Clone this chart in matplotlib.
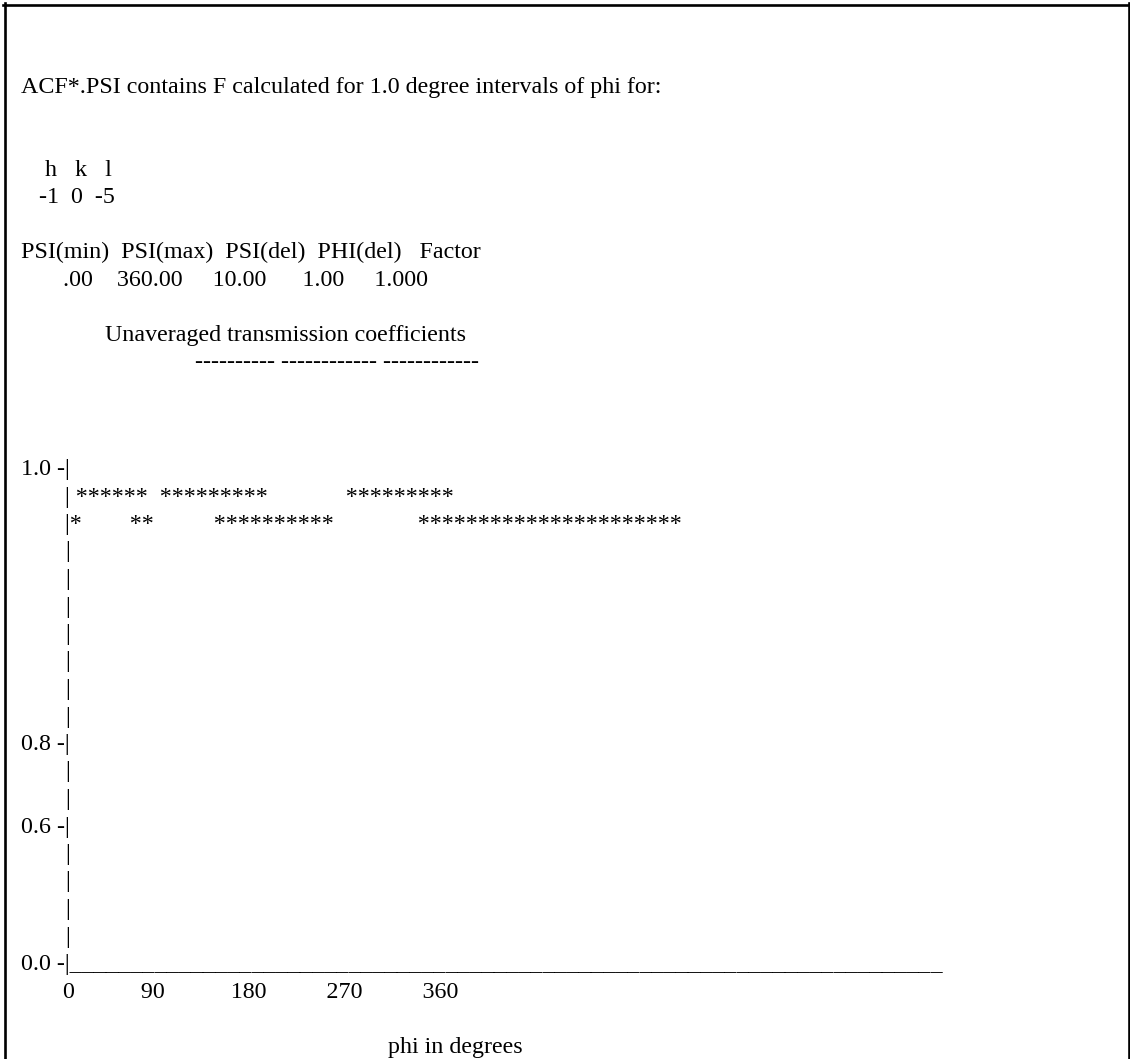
import matplotlib
matplotlib.use("Agg")
import matplotlib.pyplot as plt
from matplotlib.lines import Line2D

# ---------------- data ----------------
title_line = "ACF*.PSI contains F calculated for 1.0 degree intervals of phi for:"
hkl_labels = ["h", "k", "l"]
hkl_values = ["-1", "0", "-5"]
param_names = ["PSI(min)", "PSI(max)", "PSI(del)", "PHI(del)", "Factor"]
param_values = [".00", "360.00", "10.00", "1.00", "1.000"]
subtitle = "Unaveraged transmission coefficients"
underline_groups = [10, 12, 12]
y_tick_labels = ["1.0", "0.8", "0.6", "0.0"]
y_tick_rows = [0, 10, 13, 18]          # text rows of the ASCII plot
# ASCII plot rows of asterisks (row index -> text right of the axis bar)
star_row_index = [1, 2]
star_rows = [
    " ******  *********             *********",
    "*        **          **********              **********************",
]
x_axis_length = 72                      # underscores on the x axis line
x_tick_labels = ["0", "90", "180", "270", "360"]
x_label = "phi in degrees"

# ---------------- layout ----------------
W, H, DPI = 1130, 1059, 100
FONT = "Liberation Serif"
FS = 17.3
LEFT = 21
BASE0 = 475.0      # baseline of the "1.0" row (pixels from top)
STEP = 27.5        # line pitch in pixels
HEAD_SHIFT = 3.0   # header block sits slightly lower than the plot grid
BAR_X = 65

fig = plt.figure(figsize=(W / DPI, H / DPI), dpi=DPI)
ax = fig.add_axes([0, 0, 1, 1])
ax.set_xlim(0, W)
ax.set_ylim(H, 0)
ax.axis("off")


def row_y(k):
    y = BASE0 + STEP * k
    return y + HEAD_SHIFT if k < 0 else y


def put(x, k, s, ha="left"):
    ax.text(x, row_y(k), s, fontfamily=FONT, fontsize=FS, color="black",
            va="baseline", ha=ha)


# header block
put(LEFT, -14, title_line)
put(LEFT, -11, "    " + "   ".join(hkl_labels))
put(LEFT, -10, "   " + "  ".join(hkl_values))
put(LEFT, -8, "  ".join(param_names[:4]) + "   " + param_names[4])
val_gaps = [7, 4, 5, 6, 5]
put(LEFT, -7, "".join(" " * g + v for g, v in zip(val_gaps, param_values)))
put(LEFT, -5, " " * 14 + subtitle)
put(LEFT, -4, " " * 29 + " ".join("-" * n for n in underline_groups))

# y axis with tick labels
for k in range(0, 18):
    if k in y_tick_rows or k in star_row_index:
        continue
    put(BAR_X, k, "|")
for lab, k in zip(y_tick_labels, y_tick_rows):
    if lab == "0.0":
        put(LEFT, k, lab + " -|" + "_" * x_axis_length)
    else:
        put(LEFT, k, lab + " -|")

# star rows (the plotted values)
for k, s in zip(star_row_index, star_rows):
    put(BAR_X, k, "|" + s)

# x tick labels and axis title
tick_gaps = [7, 11, 11, 10, 10]
put(LEFT, 19, "".join(" " * g + t for g, t in zip(tick_gaps, x_tick_labels)))
put(388, 21, x_label)

# page frame
lw = 1.9
ax.add_line(Line2D([4.5, 4.5], [3, H], color="black", lw=lw))
ax.add_line(Line2D([3, W], [4.5, 4.5], color="black", lw=lw))
ax.add_line(Line2D([W - 1.5, W - 1.5], [3, H], color="black", lw=lw))

fig.savefig("out.png", dpi=DPI, facecolor="white")
